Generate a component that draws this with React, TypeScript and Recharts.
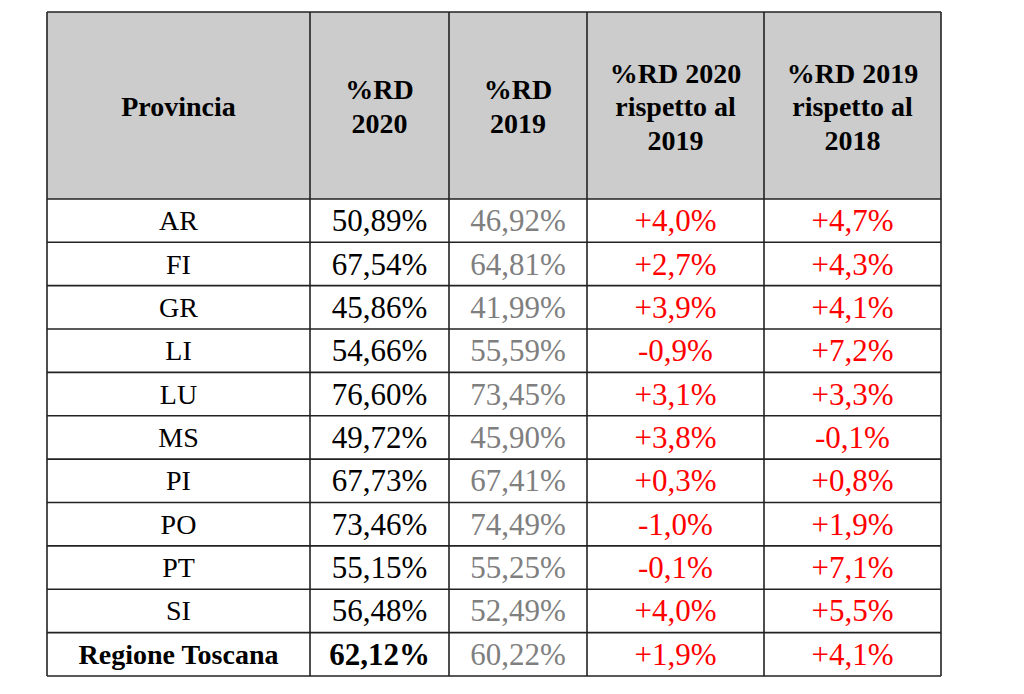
import { ScatterChart, Scatter, XAxis, YAxis, ReferenceArea, ReferenceLine } from "recharts";

const provinces = ["AR", "FI", "GR", "LI", "LU", "MS", "PI", "PO", "PT", "SI", "Regione Toscana"];
const rd2020 = [50.89, 67.54, 45.86, 54.66, 76.6, 49.72, 67.73, 73.46, 55.15, 56.48, 62.12];
const rd2019 = [46.92, 64.81, 41.99, 55.59, 73.45, 45.9, 67.41, 74.49, 55.25, 52.49, 60.22];
const diff2020vs2019 = [4.0, 2.7, 3.9, -0.9, 3.1, 3.8, 0.3, -1.0, -0.1, 4.0, 1.9];
const diff2019vs2018 = [4.7, 4.3, 4.1, 7.2, 3.3, -0.1, 0.8, 1.9, 7.1, 5.5, 4.1];

const headerLines = [
  ["Provincia"],
  ["%RD", "2020"],
  ["%RD", "2019"],
  ["%RD 2020", "rispetto al", "2019"],
  ["%RD 2019", "rispetto al", "2018"],
];

// layout
const TABLE_W = 894;
const COL_EDGES = [0, 263, 402, 540, 717, 894];
const HEADER_ROWS = 4.31; // header height measured in body rows
const FONT = '"Liberation Serif", "Times New Roman", serif';
const LINE = "#222";

const fmtPct = (v: number) => v.toFixed(2).replace(".", ",") + "%";
const fmtDiff = (v: number) =>
  (v > 0 ? "+" : v < 0 ? "-" : "") + Math.abs(v).toFixed(1).replace(".", ",") + "%";

const colCenter = (c: number) => (COL_EDGES[c] + COL_EDGES[c + 1]) / 2;
const lastRow = provinces.length - 1;

const columns = [
  { texts: provinces, color: "#000", size: 28, boldLast: true },
  { texts: rd2020.map(fmtPct), color: "#000", size: 31, boldLast: true },
  { texts: rd2019.map(fmtPct), color: "#7f7f7f", size: 31, boldLast: false },
  { texts: diff2020vs2019.map(fmtDiff), color: "#ff0000", size: 31, boldLast: false },
  { texts: diff2019vs2018.map(fmtDiff), color: "#ff0000", size: 31, boldLast: false },
];

const headerData = headerLines.map((lines, c) => ({ x: colCenter(c), y: -HEADER_ROWS / 2, lines }));

const CellText = (props: any) => {
  const { cx, cy, payload } = props;
  return (
    <text
      x={cx}
      y={cy + payload.size * 0.34}
      textAnchor="middle"
      fill={payload.color}
      fontSize={payload.size}
      fontWeight={payload.bold ? 700 : 400}
      fontFamily={FONT}
    >
      {payload.text}
    </text>
  );
};

const HeaderText = (props: any) => {
  const { cx, cy, payload } = props;
  const lh = 33.5;
  const n = payload.lines.length;
  return (
    <text textAnchor="middle" fill="#000" fontSize={28} fontWeight={700} fontFamily={FONT}>
      {payload.lines.map((l: string, i: number) => (
        <tspan key={i} x={cx} y={cy - ((n - 1) / 2) * lh + 28 * 0.38 + i * lh}>
          {l}
        </tspan>
      ))}
    </text>
  );
};

export default function App() {
  return (
    <div style={{ position: "absolute", left: 0, top: 0, background: "#fff" }}>
      <ScatterChart width={1024} height={694} margin={{ top: 12, right: 83, bottom: 18, left: 47 }}>
        <XAxis type="number" dataKey="x" domain={[0, TABLE_W]} allowDataOverflow hide />
        <YAxis
          type="number"
          dataKey="y"
          domain={[-HEADER_ROWS, provinces.length]}
          allowDataOverflow
          reversed
          hide
        />
        <ReferenceArea
          x1={0}
          x2={TABLE_W}
          y1={-HEADER_ROWS}
          y2={0}
          fill="#cccccc"
          fillOpacity={1}
          stroke="none"
          ifOverflow="visible"
        />
        {provinces.map((_, i) => (
          <ReferenceLine key={"r" + i} y={i} stroke={LINE} strokeWidth={1.6} ifOverflow="visible" />
        ))}
        <ReferenceLine y={-HEADER_ROWS} stroke={LINE} strokeWidth={1.6} ifOverflow="visible" />
        <ReferenceLine y={provinces.length} stroke={LINE} strokeWidth={1.6} ifOverflow="visible" />
        {COL_EDGES.map((x) => (
          <ReferenceLine key={"c" + x} x={x} stroke={LINE} strokeWidth={1.6} ifOverflow="visible" />
        ))}
        <Scatter data={headerData} shape={HeaderText} isAnimationActive={false} />
        {columns.map((col, c) => (
          <Scatter
            key={c}
            data={col.texts.map((text, i) => ({
              x: colCenter(c),
              y: i + 0.5,
              text,
              color: col.color,
              size: col.size,
              bold: col.boldLast && i === lastRow,
            }))}
            shape={CellText}
            isAnimationActive={false}
          />
        ))}
      </ScatterChart>
    </div>
  );
}
